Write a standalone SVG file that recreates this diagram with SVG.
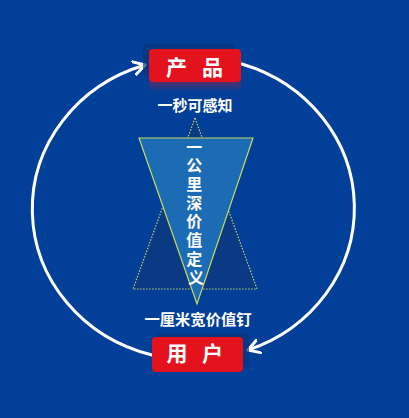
<svg xmlns="http://www.w3.org/2000/svg" width="409" height="418" viewBox="0 0 409 418">
  <defs>
    <style>
      .lbl { font-family: "Noto Sans CJK SC", "Noto Sans", sans-serif; font-weight: bold; fill: #ffffff; text-anchor: middle; }
      .box { fill: #e3121c; }
      .shadow { fill: #0a347c; opacity: 0.7; }
      .arc { fill: none; stroke: #ffffff; stroke-width: 3; stroke-linecap: round; }
    </style>
    <marker id="head" viewBox="-12 -8 14 16" markerWidth="14" markerHeight="16" refX="0" refY="0" orient="auto" markerUnits="userSpaceOnUse">
      <path d="M-11,-6.5 L0,0 L-11,6.5" fill="none" stroke="#ffffff" stroke-width="3" stroke-linecap="round" stroke-linejoin="round"/>
    </marker>
    <linearGradient id="refl" x1="0" y1="0" x2="0" y2="1">
      <stop offset="0" stop-color="#e3121c" stop-opacity="0.35"/>
      <stop offset="1" stop-color="#e3121c" stop-opacity="0"/>
    </linearGradient>
  </defs>

  <rect x="0" y="0" width="409" height="418" fill="#023f98"/>

  <g id="connectors">
    <path class="arc" d="M 152 355 A 161 151 0 0 1 145 65" marker-end="url(#head)"/>
    <path class="arc" d="M 242 64 A 161 151 0 0 1 248 350" marker-end="url(#head)"/>
  </g>

  <g id="triangles">
    <polygon points="195,118 133,289 257,289" fill="#0b3a84" stroke="#c2d36a" stroke-width="1.2" stroke-dasharray="1.5 1.5"/>
    <polygon points="139,138 253,138 197,304" fill="#1c6bb5" stroke="#c8da5a" stroke-width="1.2"/>
    <text class="lbl" font-size="16">
      <tspan x="196" y="152.5">一</tspan>
      <tspan x="196" y="171.2">公</tspan>
      <tspan x="196" y="189.9">里</tspan>
      <tspan x="196" y="208.6">深</tspan>
      <tspan x="196" y="227.3">价</tspan>
      <tspan x="196" y="246">值</tspan>
      <tspan x="196" y="264.7">定</tspan>
      <tspan x="196" y="283.4">义</tspan>
    </text>
  </g>

  <g id="product">
    <rect class="shadow" x="143" y="44" width="92" height="32" rx="3"/>
    <rect x="149" y="82" width="92" height="10" fill="url(#refl)"/>
    <rect class="box" x="149" y="49" width="92" height="33" rx="4"/>
    <text class="lbl" font-size="21" x="176.5" y="75">产</text>
    <text class="lbl" font-size="21" x="212.5" y="75">品</text>
  </g>

  <g id="label-top">
    <text class="lbl" font-size="15" x="195" y="111">一秒可感知</text>
  </g>

  <g id="label-bottom">
    <text class="lbl" font-size="15.3" x="198" y="325">一厘米宽价值钉</text>
  </g>

  <g id="user">
    <rect class="shadow" x="157" y="333" width="92" height="34" rx="3"/>
    <rect class="box" x="152" y="337" width="91" height="35" rx="4"/>
    <text class="lbl" font-size="21" x="177" y="361">用</text>
    <text class="lbl" font-size="21" x="212.5" y="361">户</text>
  </g>
</svg>
